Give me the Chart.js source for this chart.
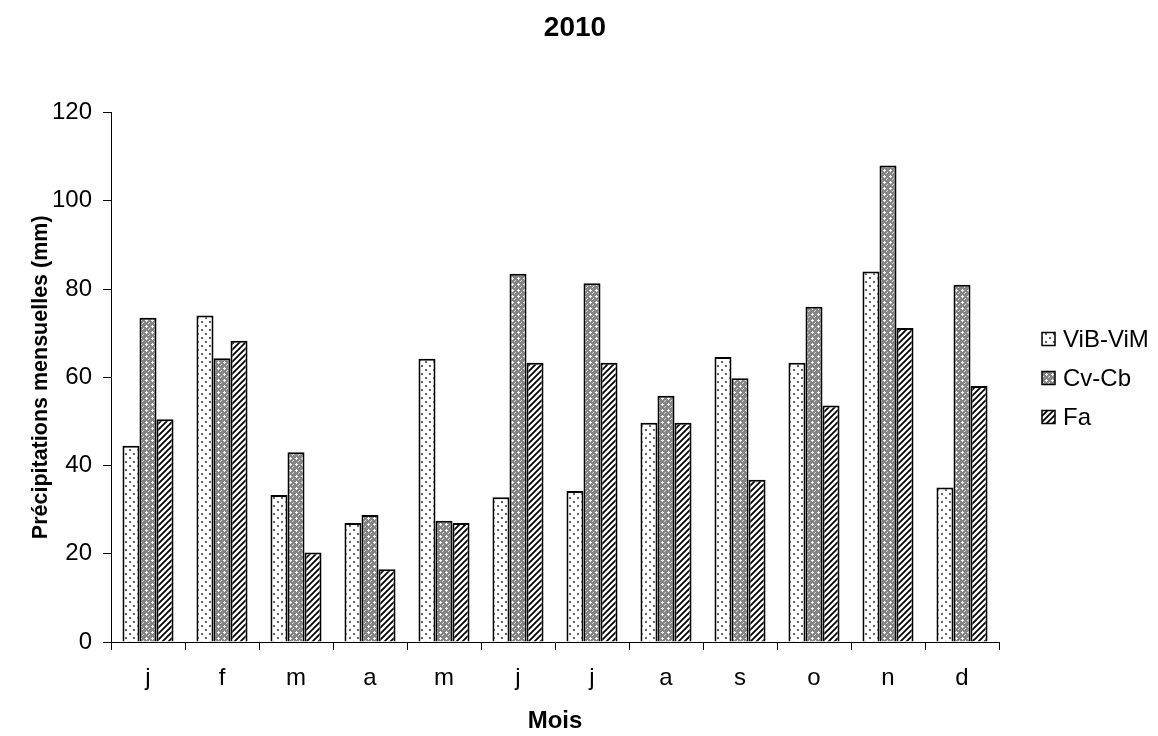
<!DOCTYPE html>
<html>
<head>
<meta charset="utf-8">
<script src="https://cdn.jsdelivr.net/npm/chart.js@4.4.0/dist/chart.umd.min.js"></script>
<style>
  html, body { margin: 0; padding: 0; background: #fff; }
  #wrap { width: 1158px; height: 736px; }
</style>
</head>
<body>
<div id="wrap"><canvas id="myChart" width="1158" height="736"></canvas></div>
<script>
const months = ['j', 'f', 'm', 'a', 'm', 'j', 'j', 'a', 's', 'o', 'n', 'd'];
const vibVim = [44.5, 74, 33.3, 27, 64.2, 32.8, 34.2, 49.7, 64.6, 63.3, 84, 35];
const cvCb = [73.5, 64.3, 43, 28.8, 27.5, 83.5, 81.3, 55.8, 59.8, 76, 108, 81];
const fa = [50.5, 68.3, 20.3, 16.5, 27, 63.3, 63.3, 49.7, 36.8, 53.6, 71.2, 58];
const yTicks = [0, 20, 40, 60, 80, 100, 120];

const font = "'Liberation Sans', Arial, sans-serif";

function makePattern(size, draw) {
    const c = document.createElement('canvas');
    c.width = size; c.height = size;
    const g = c.getContext('2d');
    draw(g, size);
    return document.getElementById('myChart').getContext('2d').createPattern(c, 'repeat');
}

const dotted = makePattern(8, function(g, s) {
    g.fillStyle = '#fff';
    g.fillRect(0, 0, s, s);
    g.fillStyle = '#666';
    g.fillRect(1, 1, 2, 2);
    g.fillRect(5, 5, 2, 2);
});

const hatched = makePattern(6, function(g, s) {
    g.fillStyle = '#858585';
    g.fillRect(0, 0, s, s);
    g.fillStyle = '#fff';
    g.fillRect(2, 1, 1, 3);
    g.fillRect(1, 2, 3, 1);
    g.fillStyle = '#e0e0e0';
    g.fillRect(5, 4, 1, 1);
    g.fillRect(4, 5, 1, 1);
});

const striped = makePattern(6, function(g, s) {
    g.fillStyle = '#fff';
    g.fillRect(0, 0, s, s);
    g.strokeStyle = '#000';
    g.lineWidth = 1.8;
    g.beginPath();
    g.moveTo(-1, s + 1); g.lineTo(s + 1, -1);
    g.moveTo(-1, 1); g.lineTo(1, -1);
    g.moveTo(s - 1, s + 1); g.lineTo(s + 1, s - 1);
    g.stroke();
});

// legend drawn by hand so it sits where the reference has it
const legendPlugin = {
    id: 'sideLegend',
    afterDraw(chart) {
        const ctx = chart.ctx;
        const ys = [339, 378, 417];
        ctx.save();
        chart.data.datasets.forEach(function(ds, i) {
            const y = ys[i];
            ctx.fillStyle = ds.backgroundColor;
            ctx.fillRect(1042, y - 6.5, 13, 13);
            ctx.strokeStyle = '#000';
            ctx.lineWidth = 1.5;
            ctx.strokeRect(1042, y - 6.5, 13, 13);
            ctx.fillStyle = '#000';
            ctx.font = '24px ' + font;
            ctx.textBaseline = 'middle';
            ctx.textAlign = 'left';
            ctx.fillText(ds.label, 1063, y + 1);
        });
        ctx.restore();
    }
};

const ctx = document.getElementById('myChart').getContext('2d');
const myChart = new Chart(ctx, {
    type: 'bar',
    data: {
        labels: months,
        datasets: [
            { label: 'ViB-ViM', data: vibVim, backgroundColor: dotted },
            { label: 'Cv-Cb', data: cvCb, backgroundColor: hatched },
            { label: 'Fa', data: fa, backgroundColor: striped }
        ]
    },
    options: {
        responsive: false,
        animation: false,
        devicePixelRatio: 1,
        layout: { padding: { left: 0, right: 8, top: 0, bottom: 0 } },
        datasets: {
            bar: {
                borderColor: '#000',
                borderWidth: 2,
                categoryPercentage: 0.69,
                barPercentage: 1
            }
        },
        plugins: {
            legend: { display: false },
            tooltip: { enabled: false },
            title: {
                display: true,
                text: '2010',
                color: '#000',
                font: { family: font, size: 28, weight: 'bold' },
                padding: { top: 11, bottom: 68 }
            }
        },
        scales: {
            x: {
                grid: { drawOnChartArea: false, drawTicks: true, tickLength: 8, color: '#000', offset: true },
                border: { color: '#000', width: 1 },
                ticks: { color: '#000', font: { family: font, size: 24 }, padding: 14 },
                title: {
                    display: true,
                    text: 'Mois',
                    color: '#000',
                    font: { family: font, size: 24, weight: 'bold' },
                    padding: { top: 0, bottom: 0 }
                },
                afterFit(scale) { scale.height = 94; }
            },
            y: {
                min: 0,
                max: 120,
                afterBuildTicks(scale) { scale.ticks = yTicks.map(v => ({ value: v })); },
                grid: { drawOnChartArea: false, drawTicks: true, tickLength: 8, color: '#000' },
                border: { color: '#000', width: 1 },
                ticks: { color: '#000', font: { family: font, size: 24 }, padding: 11 },
                title: {
                    display: true,
                    text: 'Précipitations mensuelles (mm)',
                    color: '#000',
                    font: { family: font, size: 21.5, weight: 'bold' },
                    padding: { top: 28, bottom: 0 }
                },
                afterFit(scale) { scale.width = 111; }
            },
            // empty right-hand axis that only reserves room for the legend
            y2: {
                type: 'linear',
                position: 'right',
                grid: { display: false },
                border: { display: false },
                ticks: { display: false },
                afterFit(scale) { scale.width = 151; }
            }
        }
    },
    plugins: [legendPlugin]
});
</script>
</body>
</html>
